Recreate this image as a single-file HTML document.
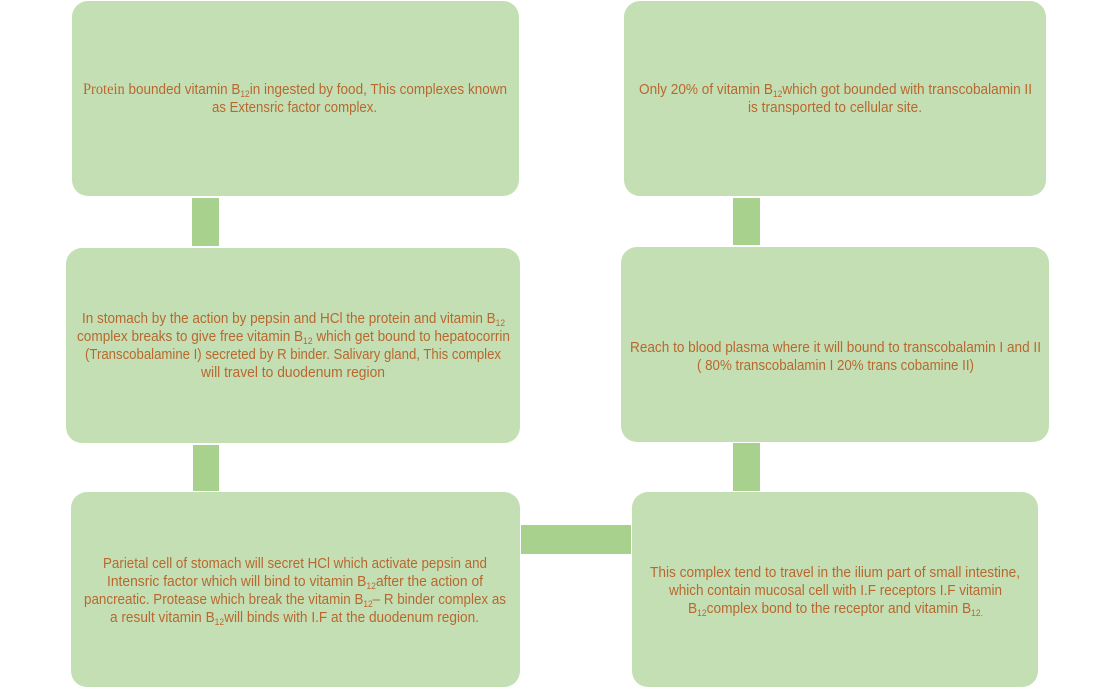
<!DOCTYPE html>
<html>
<head>
<meta charset="utf-8">
<style>
html,body{margin:0;padding:0;background:#fff;width:1118px;height:689px;overflow:hidden}
svg{display:block}
text{font-family:"Liberation Sans",sans-serif;font-size:14.5px;fill:#b8682e;filter:blur(0.3px)}
tspan.s{font-size:9px}
tspan.p{font-family:"Liberation Serif",serif;font-size:15.5px}
</style>
</head>
<body>
<svg width="1118" height="689" viewBox="0 0 1118 689" xmlns="http://www.w3.org/2000/svg">
<g fill="#a9d18e">
<rect x="192" y="198" width="27" height="48"/>
<rect x="193" y="445" width="26" height="46"/>
<rect x="733" y="198" width="27" height="47"/>
<rect x="733" y="443" width="27" height="48"/>
<rect x="521" y="525" width="110" height="29"/>
</g>
<g fill="#c5dfb4">
<rect x="72" y="1" width="447" height="195" rx="16"/>
<rect x="66" y="248" width="454" height="195" rx="16"/>
<rect x="71" y="492" width="449" height="195" rx="16"/>
<rect x="624" y="1" width="422" height="195" rx="16"/>
<rect x="621" y="247" width="428" height="195" rx="16"/>
<rect x="632" y="492" width="406" height="195" rx="16"/>
</g>
<g>
<text x="83" y="94" textLength="424" lengthAdjust="spacingAndGlyphs"><tspan class="p">Protein</tspan> bounded vitamin B<tspan class="s" dy="3">12</tspan><tspan dy="-3">in ingested by food, This complexes known</tspan></text>
<text x="212" y="112" textLength="165" lengthAdjust="spacingAndGlyphs">as Extensric factor complex.</text>

<text x="82" y="323" textLength="423" lengthAdjust="spacingAndGlyphs">In stomach by the action by pepsin and HCl the protein and vitamin B<tspan class="s" dy="3">12</tspan></text>
<text x="77" y="341" textLength="433" lengthAdjust="spacingAndGlyphs">complex breaks to give free vitamin B<tspan class="s" dy="3">12</tspan><tspan dy="-3"> which get bound to hepatocorrin</tspan></text>
<text x="85" y="359" textLength="416" lengthAdjust="spacingAndGlyphs">(Transcobalamine I) secreted by R binder. Salivary gland, This complex</text>
<text x="201" y="377" textLength="184" lengthAdjust="spacingAndGlyphs">will travel to duodenum region</text>

<text x="103" y="568" textLength="384" lengthAdjust="spacingAndGlyphs">Parietal cell of stomach will secret HCl which activate pepsin and</text>
<text x="107" y="586" textLength="376" lengthAdjust="spacingAndGlyphs">Intensric factor which will bind to vitamin B<tspan class="s" dy="3">12</tspan><tspan dy="-3">after the action of</tspan></text>
<text x="84" y="604" textLength="422" lengthAdjust="spacingAndGlyphs">pancreatic. Protease which break the vitamin B<tspan class="s" dy="3">12</tspan><tspan dy="-3">– R binder complex as</tspan></text>
<text x="110" y="622" textLength="369" lengthAdjust="spacingAndGlyphs">a result vitamin B<tspan class="s" dy="3">12</tspan><tspan dy="-3">will binds with I.F at the duodenum region.</tspan></text>

<text x="639" y="94" textLength="393" lengthAdjust="spacingAndGlyphs">Only 20% of vitamin B<tspan class="s" dy="3">12</tspan><tspan dy="-3">which got bounded with transcobalamin II</tspan></text>
<text x="748" y="112" textLength="174" lengthAdjust="spacingAndGlyphs">is transported to cellular site.</text>

<text x="630" y="352" textLength="411" lengthAdjust="spacingAndGlyphs">Reach to blood plasma where it will bound to transcobalamin I and II</text>
<text x="697" y="370" textLength="277" lengthAdjust="spacingAndGlyphs">( 80% transcobalamin I 20% trans cobamine II)</text>

<text x="650" y="577" textLength="370" lengthAdjust="spacingAndGlyphs">This complex tend to travel in the ilium part of small intestine,</text>
<text x="669" y="595" textLength="333" lengthAdjust="spacingAndGlyphs">which contain mucosal cell with I.F receptors I.F vitamin</text>
<text x="688" y="613" textLength="295" lengthAdjust="spacingAndGlyphs">B<tspan class="s" dy="3">12</tspan><tspan dy="-3">complex bond to the receptor and vitamin B</tspan><tspan class="s" dy="3">12.</tspan></text>
</g>
</svg>
</body>
</html>
